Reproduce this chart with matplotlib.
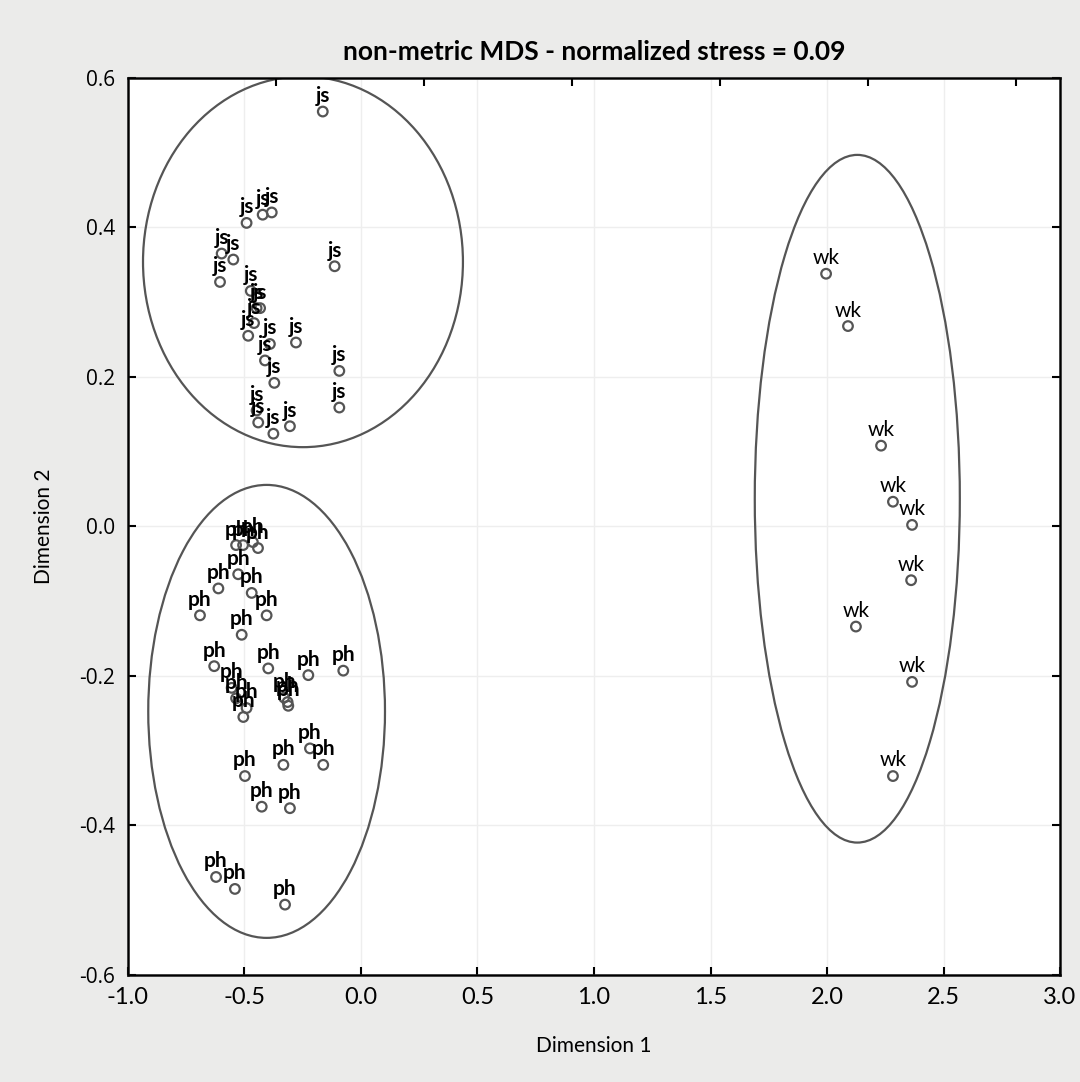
import matplotlib
matplotlib.use("Agg")
import matplotlib.pyplot as plt
from matplotlib.patches import Ellipse

plt.rcParams['font.family'] = ['Lato', 'DejaVu Sans']

# MDS coordinates
js_x = [-0.164, -0.491, -0.422, -0.383, -0.598, -0.548, -0.605, -0.113, -0.473, -0.448,
        -0.433, -0.459, -0.484, -0.391, -0.279, -0.412, -0.372, -0.093, -0.093, -0.448,
        -0.441, -0.305, -0.376]
js_y = [0.555, 0.406, 0.417, 0.420, 0.365, 0.357, 0.327, 0.348, 0.315, 0.292,
        0.292, 0.272, 0.255, 0.244, 0.246, 0.222, 0.192, 0.208, 0.159, 0.155,
        0.139, 0.134, 0.124]

ph_x = [-0.536, -0.506, -0.464, -0.442, -0.527, -0.612, -0.469, -0.691, -0.405, -0.512,
        -0.630, -0.398, -0.226, -0.076, -0.555, -0.536, -0.491, -0.505, -0.330, -0.315,
        -0.312, -0.219, -0.333, -0.162, -0.498, -0.426, -0.305, -0.622, -0.541, -0.326]
ph_y = [-0.025, -0.025, -0.021, -0.029, -0.064, -0.083, -0.089, -0.119, -0.119, -0.145,
        -0.187, -0.190, -0.199, -0.193, -0.216, -0.230, -0.243, -0.255, -0.229, -0.235,
        -0.240, -0.297, -0.319, -0.319, -0.334, -0.375, -0.377, -0.469, -0.485, -0.506]

wk_x = [1.996, 2.090, 2.232, 2.283, 2.365, 2.361, 2.124, 2.365, 2.283]
wk_y = [0.338, 0.268, 0.108, 0.033, 0.002, -0.072, -0.134, -0.208, -0.334]

# cluster ellipses: centre x, centre y, width, height
clusters = [(-0.249, 0.354, 1.373, 0.496),
            (-0.405, -0.2475, 1.016, 0.606),
            (2.13, 0.037, 0.88, 0.92)]

fig = plt.figure(figsize=(10.8, 10.82), dpi=100, facecolor='#ebebea')
ax = fig.add_axes([0.1185, 0.099, 0.863, 0.829])
ax.set_facecolor('white')

ax.grid(True, color='#eeeeee', lw=1)
ax.set_axisbelow(True)

for lab, xs, ys, wt in [('js', js_x, js_y, 'bold'), ('ph', ph_x, ph_y, 'bold'),
                        ('wk', wk_x, wk_y, 'normal')]:
    ax.scatter(xs, ys, s=48, facecolors='none', edgecolors='#555555', linewidths=1.6, zorder=3)
    for x, y in zip(xs, ys):
        ax.annotate(lab, (x, y), xytext=(0, 4), textcoords='offset points',
                    ha='center', va='bottom', fontsize=15, fontweight=wt, color='black',
                    zorder=4)

for cx, cy, w, h in clusters:
    ax.add_patch(Ellipse((cx, cy), w, h, fill=False, edgecolor='#555555', lw=1.6, zorder=2))

ax.set_xlim(-1.0, 3.0)
ax.set_ylim(-0.6, 0.6)
ax.set_xticks([-1.0, -0.5, 0.0, 0.5, 1.0, 1.5, 2.0, 2.5, 3.0])
ax.set_yticks([-0.6, -0.4, -0.2, 0.0, 0.2, 0.4, 0.6])
ax.xaxis.set_major_formatter(matplotlib.ticker.FormatStrFormatter('%.1f'))
ax.yaxis.set_major_formatter(matplotlib.ticker.FormatStrFormatter('%.1f'))
ax.tick_params(direction='in', length=6, width=1.5, labelsize=17, right=True, pad=9)
for t in ax.get_yticklabels():
    t.set_fontfamily(['Open Sans', 'DejaVu Sans'])
    t.set_fontsize(15)
for s in ax.spines.values():
    s.set_linewidth(1.8)
    s.set_color('#111111')

# top axis with its own tick spacing
top = ax.twiny()
top.set_xlim(0, 6.3)
top.set_xticks([1, 2, 3, 4, 5, 6])
top.set_xticklabels([])
top.tick_params(direction='in', length=6, width=1.5)

ax.set_xlabel('Dimension 1', fontsize=15, labelpad=20)
ax.set_ylabel('Dimension 2', fontsize=15, labelpad=18)
ax.set_title('non-metric MDS - normalized stress = 0.09', fontsize=19, fontweight='bold', pad=13)

fig.savefig('out.png', dpi=100, facecolor=fig.get_facecolor())
